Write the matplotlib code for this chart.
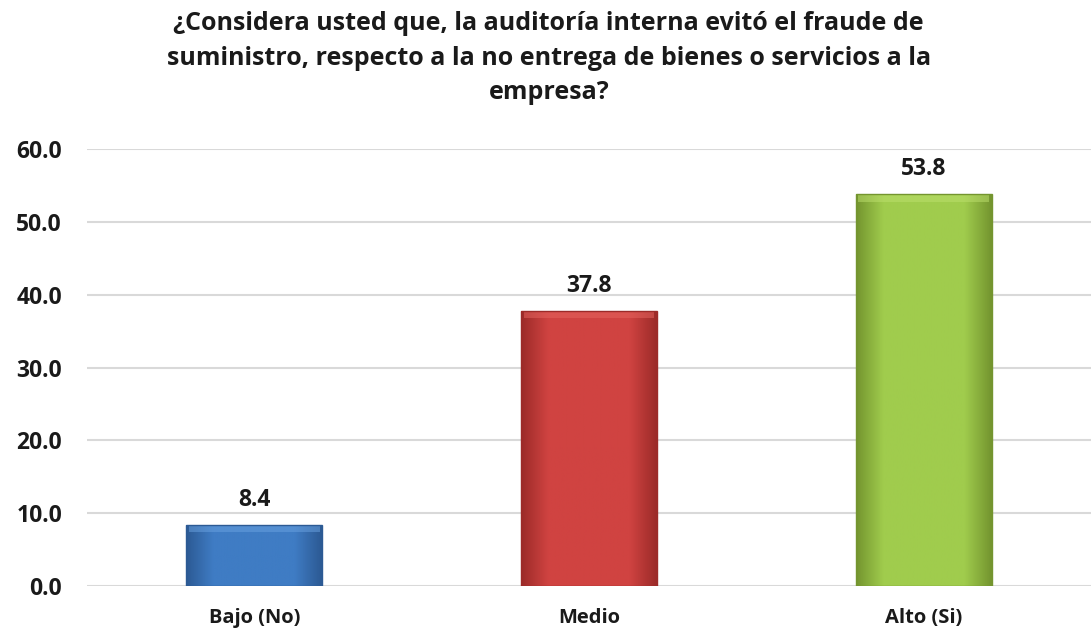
import numpy as np
import matplotlib
matplotlib.use("Agg")
import matplotlib.pyplot as plt
from matplotlib.colors import LinearSegmentedColormap

categorias = ["Bajo (No)", "Medio", "Alto (Si)"]
valores = [8.4, 37.8, 53.8]
colores = [("#6aa2e0", "#3f7cc4", "#2c5a94"),
           ("#e66560", "#d04341", "#9c2b29"),
           ("#bde06e", "#a0cc4d", "#74952f")]
titulo = ("¿Considera usted que, la auditoría interna evitó el fraude de\n"
          "suministro, respecto a la no entrega de bienes o servicios a la\n"
          "empresa?")

plt.rcParams['font.family'] = ['Open Sans', 'DejaVu Sans']

fig = plt.figure(figsize=(10.91, 6.34), dpi=100)
ax = fig.add_axes([0.0797, 0.0757, 0.9203, 0.689])

x = np.arange(len(categorias))
ancho = 0.406
barras = ax.bar(x, valores, width=ancho, color="none", zorder=3)

for b, (claro, medio, oscuro) in zip(barras, colores):
    # degradado horizontal: bordes más oscuros, centro más claro
    cmap = LinearSegmentedColormap.from_list("c", [oscuro, medio, medio, medio, medio, oscuro])
    grad = np.linspace(0, 1, 200).reshape(1, -1)
    x0, y0 = b.get_x(), b.get_y()
    w, h = b.get_width(), b.get_height()
    im = ax.imshow(grad, extent=[x0, x0 + w, y0, y0 + h], aspect="auto",
                   cmap=cmap, zorder=3)
    im.set_clip_path(b)
    # franja superior clara (bisel)
    ax.bar(x0 + w / 2, 1.0, bottom=y0 + h - 1.0, width=w * 0.96,
           color=claro, alpha=0.5, zorder=4, linewidth=0)
    ax.bar(x0 + w / 2, h, width=w, color="none", edgecolor=oscuro,
           linewidth=1.0, zorder=5)

for xi, v in zip(x, valores):
    ax.text(xi, v + 1.8, f"{v:.1f}", ha="center", va="bottom",
            fontsize=16.5, fontweight="bold", color="#1a1a1a")

ax.set_xlim(-0.5, len(categorias) - 0.5)
ax.set_ylim(0, 60)
ax.set_yticks(np.arange(0, 61, 10))
ax.set_yticklabels([f"{t:.1f}" for t in np.arange(0, 61, 10)],
                   fontsize=16.5, fontweight="bold", color="#1a1a1a")
ax.set_xticks(x)
ax.set_xticklabels(categorias, fontsize=14.5, fontweight="bold", color="#1a1a1a")
ax.tick_params(axis="both", length=0)
ax.tick_params(axis="y", pad=18)
ax.tick_params(axis="x", pad=16)
ax.grid(axis="y", color="#d9d9d9", linewidth=1.5, zorder=0)
ax.set_axisbelow(True)
for s in ax.spines.values():
    s.set_visible(False)

fig.text(0.503, 0.982, titulo, ha="center", va="top", fontsize=18,
         fontweight="bold", color="#1a1a1a", linespacing=1.5)

fig.savefig("out.png", dpi=100)
